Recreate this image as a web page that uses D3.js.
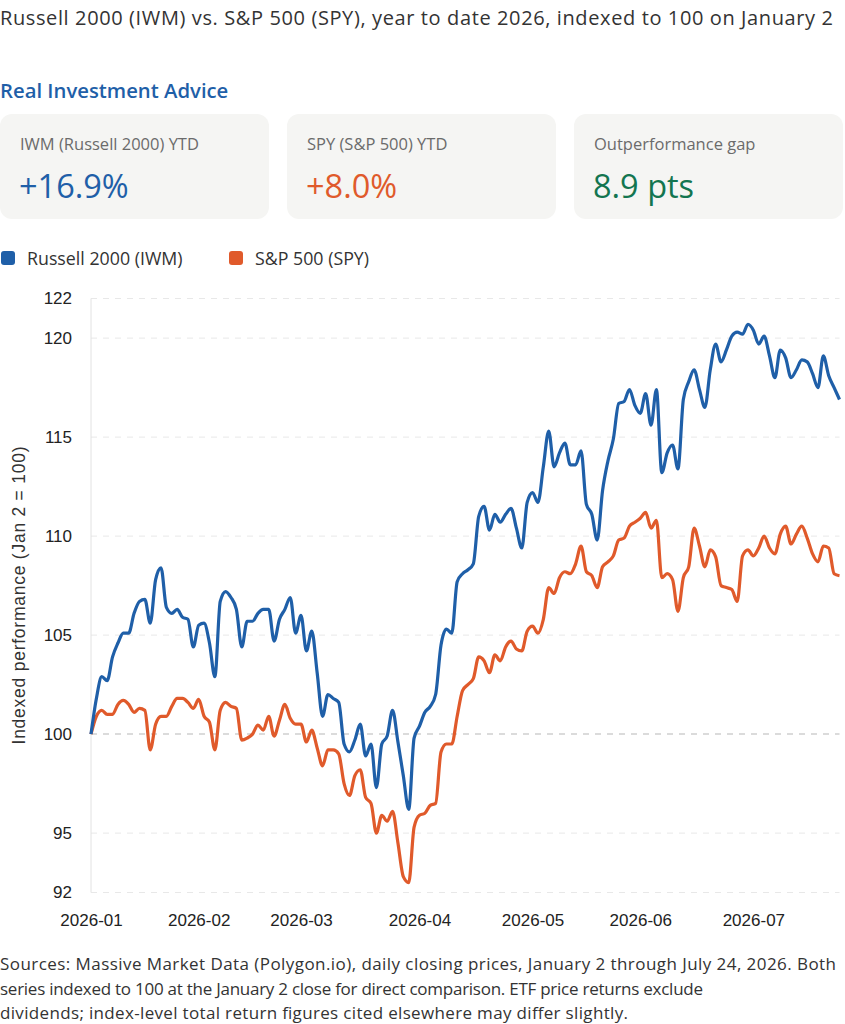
<!DOCTYPE html>
<html>
<head>
<meta charset="utf-8">
<script src="https://cdn.jsdelivr.net/npm/d3@7"></script>
<style>
  body { margin: 0; background: #fff; }
  #chart svg { display: block; }
</style>
</head>
<body>
<div id="chart"></div>
<script>
// series (indexed to 100 on Jan 2)
var iwmValues = [
  100.0, 101.8, 102.9, 102.7, 103.9, 104.6, 105.1, 105.1, 106.1, 106.7,
  106.8, 105.6, 107.8, 108.4, 106.4, 106.1, 106.3, 105.9, 105.8, 104.4,
  105.5, 105.6, 104.6, 102.9, 106.7, 107.2, 106.9, 106.3, 104.4, 105.7,
  105.7, 106.1, 106.3, 106.3, 104.7, 105.8, 106.3, 106.9, 105.1, 106.0,
  104.2, 105.2, 103.1, 100.9, 102.0, 101.8, 101.6, 99.5, 99.1, 99.7,
  100.5, 98.9, 99.5, 97.3, 99.5, 99.9, 101.2, 99.6, 97.9, 96.2,
  99.8, 100.4, 101.1, 101.4, 102.0, 104.5, 105.3, 105.1, 107.7, 108.1,
  108.3, 108.6, 111.0, 111.5, 110.3, 111.1, 110.7, 111.1, 111.4, 110.4,
  109.4, 111.7, 112.2, 111.7, 113.5, 115.3, 113.5, 114.2, 114.7, 113.6,
  113.6, 114.3, 111.6, 111.1, 109.8, 112.3, 113.8, 114.9, 116.7, 116.8,
  117.4, 116.6, 116.2, 117.2, 115.6, 117.4, 113.2, 114.2, 114.6, 113.4,
  116.9, 117.8, 118.4, 117.4, 116.5, 118.4, 119.7, 118.8, 119.4, 120.1,
  120.3, 120.2, 120.7, 120.4, 119.7, 120.1, 119.1, 118.0, 119.4, 119.0,
  118.0, 118.4, 118.9, 118.8, 118.2, 117.5, 119.1, 118.1, 117.5, 116.9
];
var spyValues = [
  100.0, 100.9, 101.2, 101.0, 101.0, 101.5, 101.7, 101.5, 101.1, 101.3,
  101.2, 99.2, 100.5, 100.9, 100.9, 101.4, 101.8, 101.8, 101.6, 101.3,
  101.75, 100.9, 100.6, 99.2, 101.2, 101.6, 101.4, 101.3, 99.7, 99.8,
  100.0, 100.45, 100.2, 100.9, 99.9, 100.7, 101.5, 100.8, 100.5, 100.5,
  99.6, 100.2, 99.3, 98.4, 99.2, 99.2, 99.0, 97.5, 96.9, 97.9,
  98.2, 96.8, 96.5, 95.0, 95.9, 95.6, 96.1, 94.5, 92.8, 92.5,
  95.3, 95.9, 96.0, 96.4, 96.5, 99.1, 99.5, 99.5, 100.9, 102.2,
  102.5, 102.8, 103.9, 103.7, 103.1, 104.0, 103.7, 104.4, 104.7, 104.3,
  104.2, 105.2, 105.45, 105.1, 105.8, 107.4, 107.1, 107.9, 108.2, 108.1,
  108.6, 109.5, 108.2, 108.0, 107.4, 108.45, 108.7, 109.0, 109.8, 109.9,
  110.5, 110.7, 110.9, 111.2, 110.4, 110.8, 107.9, 108.1, 107.8, 106.2,
  107.9, 108.45, 110.4, 109.5, 108.45, 109.3, 108.95, 107.5, 107.4, 107.3,
  106.7, 109.0, 109.3, 109.0, 109.4, 110.0, 109.4, 109.1, 110.1, 110.5,
  109.6, 110.1, 110.5, 109.9, 109.1, 108.7, 109.5, 109.4, 108.1, 108.0
];

// trading calendar: Jan 2 to Jul 24 2026, weekends and NYSE holidays removed
var firstDay = "2026-01-02";
var lastDay = "2026-07-24";
var holidays = ["2026-01-19", "2026-02-16", "2026-04-03", "2026-05-25", "2026-06-19", "2026-07-03"];

var yTicks = [92, 95, 100, 105, 110, 115, 120, 122];

var seriesNames = ["Russell 2000 (IWM)", "S&P 500 (SPY)"];
var seriesColors = ["#1f5fa8", "#e05a2b"];

var cardLabels = ["IWM (Russell 2000) YTD", "SPY (S&P 500) YTD", "Outperformance gap"];
var cardValues = ["+16.9%", "+8.0%", "8.9 pts"];
var cardColors = ["#1f5fa8", "#e05a2b", "#137550"];

var titleText = "Russell 2000 (IWM) vs. S&P 500 (SPY), year to date 2026, indexed to 100 on January 2";
var brandText = "Real Investment Advice";
var yLabel = "Indexed performance (Jan 2 = 100)";
var footerLines = [
  "Sources: Massive Market Data (Polygon.io), daily closing prices, January 2 through July 24, 2026. Both",
  "series indexed to 100 at the January 2 close for direct comparison. ETF price returns exclude",
  "dividends; index-level total return figures cited elsewhere may differ slightly."
];
// widths the reference text runs to (its font is wider than the ones installed)
var footerWidths = [836, 703, 628];

var svgWidth = 845;
var svgHeight = 1024;
var uiFont = "'Open Sans', 'Noto Sans', sans-serif";
var axisFont = "'Liberation Sans', Arial, sans-serif";

var margin = { top: 298.5, left: 91, right: 5.5, bottom: 131.5 };

var parseDay = d3.timeParse("%Y-%m-%d");
var fmtDay = d3.timeFormat("%Y-%m-%d");
var holidaySet = new Set(holidays);
var dates = d3.timeDay.range(parseDay(firstDay), d3.timeDay.offset(parseDay(lastDay), 1))
  .filter(d => d.getDay() !== 0 && d.getDay() !== 6 && !holidaySet.has(fmtDay(d)));

var series = [iwmValues, spyValues].map(function (vals, k) {
  return {
    name: seriesNames[k],
    color: seriesColors[k],
    values: vals.map((v, i) => ({ date: dates[i], value: v }))
  };
});

var svg = d3.select("#chart")
  .append("svg")
  .attr("width", svgWidth)
  .attr("height", svgHeight);

// header
svg.append("text")
  .attr("x", 0)
  .attr("y", 25)
  .attr("textLength", 833)
  .attr("lengthAdjust", "spacing")
  .style("font-family", uiFont)
  .style("font-size", "20px")
  .attr("fill", "#333")
  .text(titleText);

svg.append("text")
  .attr("x", 0)
  .attr("y", 98)
  .style("font-family", uiFont)
  .style("font-size", "20.3px")
  .style("font-weight", 600)
  .attr("fill", "#1f5fa8")
  .text(brandText);

// stat cards
var cards = svg.selectAll(".card")
  .data(cardLabels)
  .enter()
  .append("g")
  .attr("class", "card")
  .attr("transform", (d, i) => `translate(${i * 287}, 114)`);

cards.append("rect")
  .attr("width", 269)
  .attr("height", 105)
  .attr("rx", 12)
  .attr("fill", "#f5f5f3");

cards.append("text")
  .attr("x", 20)
  .attr("y", 36)
  .style("font-family", uiFont)
  .style("font-size", "16.5px")
  .attr("fill", "#6b6b6b")
  .text(d => d);

cards.append("text")
  .attr("x", 19)
  .attr("y", 84)
  .style("font-family", uiFont)
  .style("font-size", "32.5px")
  .style("font-weight", 500)
  .attr("fill", (d, i) => cardColors[i])
  .text((d, i) => cardValues[i]);

// legend
var legend = svg.selectAll(".legend")
  .data(series)
  .enter()
  .append("g")
  .attr("class", "legend")
  .attr("transform", (d, i) => `translate(${[1, 229][i]}, 251)`);

legend.append("rect")
  .attr("width", 14)
  .attr("height", 14)
  .attr("rx", 3)
  .attr("fill", d => d.color);

legend.append("text")
  .attr("x", 26)
  .attr("y", 13.5)
  .style("font-family", uiFont)
  .style("font-size", "17.8px")
  .attr("fill", "#333")
  .text(d => d.name);

// chart
var width = svgWidth - margin.left - margin.right;
var height = svgHeight - margin.top - margin.bottom;

var chartGroup = svg.append("g")
  .attr("transform", `translate(${margin.left}, ${margin.top})`);

var xScale = d3.scalePoint()
  .domain(dates)
  .range([0, width]);

var yScale = d3.scaleLinear()
  .domain([92, 122])
  .range([height, 0]);

// gridlines
chartGroup.selectAll(".grid")
  .data(yTicks)
  .enter()
  .append("line")
  .attr("x1", 0)
  .attr("x2", width)
  .attr("y1", d => yScale(d))
  .attr("y2", d => yScale(d))
  .attr("stroke", d => d === 100 ? "#cfcfcf" : "#e8e8e8")
  .attr("stroke-width", d => d === 100 ? 1.5 : 1)
  .attr("stroke-dasharray", "6,6");

chartGroup.append("line")
  .attr("x1", 0)
  .attr("x2", 0)
  .attr("y1", 0)
  .attr("y2", height)
  .attr("stroke", "#e2e2e2");

var monthStarts = dates.filter((d, i) => i === 0 || d.getMonth() !== dates[i - 1].getMonth());

var bottomAxis = d3.axisBottom(xScale)
  .tickValues(monthStarts)
  .tickFormat(d3.timeFormat("%Y-%m"))
  .tickSize(0)
  .tickPadding(21);

var leftAxis = d3.axisLeft(yScale)
  .tickValues(yTicks)
  .tickSize(0)
  .tickPadding(19);

var xAxisG = chartGroup.append("g")
  .attr("transform", `translate(0, ${height})`)
  .call(bottomAxis);

var yAxisG = chartGroup.append("g")
  .call(leftAxis);

[xAxisG, yAxisG].forEach(function (g) {
  g.select(".domain").remove();
  g.selectAll("text")
    .style("font-family", axisFont)
    .style("font-size", "17px")
    .attr("fill", "#222");
});

// lines
var line = d3.line()
  .x(d => xScale(d.date))
  .y(d => yScale(d.value))
  .curve(d3.curveMonotoneX);

chartGroup.selectAll(".series")
  .data(series.slice().reverse())
  .enter()
  .append("path")
  .attr("class", "series")
  .attr("d", d => line(d.values))
  .attr("fill", "none")
  .attr("stroke", d => d.color)
  .attr("stroke-width", 3.2)
  .attr("stroke-linejoin", "round");

chartGroup.append("text")
  .attr("transform", "rotate(-90)")
  .attr("x", -height / 2)
  .attr("y", -66)
  .attr("text-anchor", "middle")
  .attr("textLength", 298)
  .attr("lengthAdjust", "spacing")
  .style("font-family", axisFont)
  .style("font-size", "17.5px")
  .attr("fill", "#333")
  .text(yLabel);

// footer
svg.append("g")
  .selectAll("text")
  .data(footerLines)
  .enter()
  .append("text")
  .attr("x", 0)
  .attr("y", (d, i) => 970 + i * 24.5)
  .attr("textLength", (d, i) => footerWidths[i])
  .attr("lengthAdjust", "spacing")
  .style("font-family", uiFont)
  .style("font-size", "17px")
  .attr("fill", "#333")
  .text(d => d);
</script>
</body>
</html>
